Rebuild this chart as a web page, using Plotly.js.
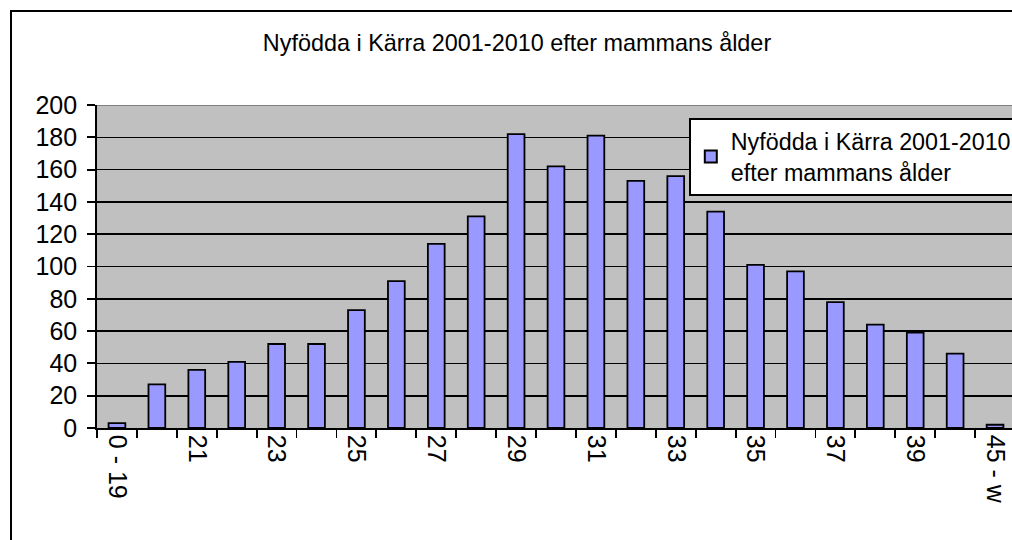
<!DOCTYPE html>
<html>
<head>
<meta charset="utf-8">
<script src="https://cdn.plot.ly/plotly-3.0.1.min.js"></script>
<style>
html,body{margin:0;padding:0;overflow:hidden;background:#fff;width:1012px;height:540px;}
#wrap{position:relative;width:1012px;height:540px;overflow:hidden;}
#chart{position:absolute;left:0;top:0;}
#frame{position:absolute;left:10px;top:10px;width:1100px;height:600px;border:2px solid #000;pointer-events:none;}
</style>
</head>
<body>
<div id="wrap"><div id="chart"></div><div id="frame"></div></div>
<script>
const categories = ["0 - 19","20","21","22","23","24","25","26","27","28","29","30","31","32","33","34","35","36","37","38","39","40 - 44","45 - w"];
const births = [3,27,36,41,52,52,73,91,114,131,182,162,181,153,156,134,101,97,78,64,59,46,2];
const tickLabels = ["0 - 19","","21","","23","","25","","27","","29","","31","","33","","35","","37","","39","","45 - w"];
const seriesName = "Nyfödda i Kärra 2001-2010<br>efter mammans ålder";
const chartTitle = "Nyfödda i Kärra 2001-2010 efter mammans ålder";

const FONT = "Liberation Sans, Arial, sans-serif";

const trace = {
  type: "bar",
  x: categories,
  y: births,
  width: 0.42,
  name: seriesName,
  marker: {color: "#9999FF", line: {color: "#000", width: 1.8}},
  showlegend: true,
  hoverinfo: "x+y"
};

const layout = {
  width: 1018, height: 540,
  margin: {l: 97, r: 3, t: 105, b: 112, autoexpand: false},
  paper_bgcolor: "#fff",
  plot_bgcolor: "#C0C0C0",
  font: {family: FONT, color: "#000", size: 24},
  title: {text: chartTitle, font: {family: FONT, size: 23.4, color: "#000"}, x: 517/1018, xref: "container", xanchor: "center", y: 1 - 43/540, yref: "container", yanchor: "middle"},
  xaxis: {
    type: "category",
    automargin: false,
    tickmode: "array",
    tickvals: categories,
    ticktext: tickLabels,
    tickson: "boundaries",
    ticks: "outside", ticklen: 8, tickwidth: 1.8, tickcolor: "#000",
    tickangle: 90,
    tickfont: {family: FONT, size: 25, color: "#000"},
    showline: true, linecolor: "#000", linewidth: 1.8,
    showgrid: false, zeroline: false,
    range: [-0.5, categories.length - 0.5],
    fixedrange: true
  },
  yaxis: {
    automargin: false,
    range: [0, 200],
    tickmode: "linear", tick0: 0, dtick: 20,
    ticks: "outside", ticklen: 8, tickwidth: 1.8, tickcolor: "#000",
    tickfont: {family: FONT, size: 25, color: "#000"},
    ticklabelstandoff: 5,
    showline: true, linecolor: "#000", linewidth: 1.8,
    showgrid: true, gridcolor: "#000", gridwidth: 1.6,
    zeroline: false,
    fixedrange: true
  },
  shapes: [{type: "line", xref: "paper", yref: "y", x0: 0, x1: 1, y0: 200, y1: 200, line: {color: "#808080", width: 2}}],
  legend: {
    x: (689 - 97) / 918, y: 0.96, xanchor: "left", yanchor: "top",
    bgcolor: "#fff", bordercolor: "#000", borderwidth: 1.8,
    font: {family: FONT, size: 23.3, color: "#000"},
    itemsizing: "constant"
  },
  showlegend: true
};

Plotly.newPlot("chart", [trace], layout, {displayModeBar: false, staticPlot: true});
</script>
</body>
</html>
